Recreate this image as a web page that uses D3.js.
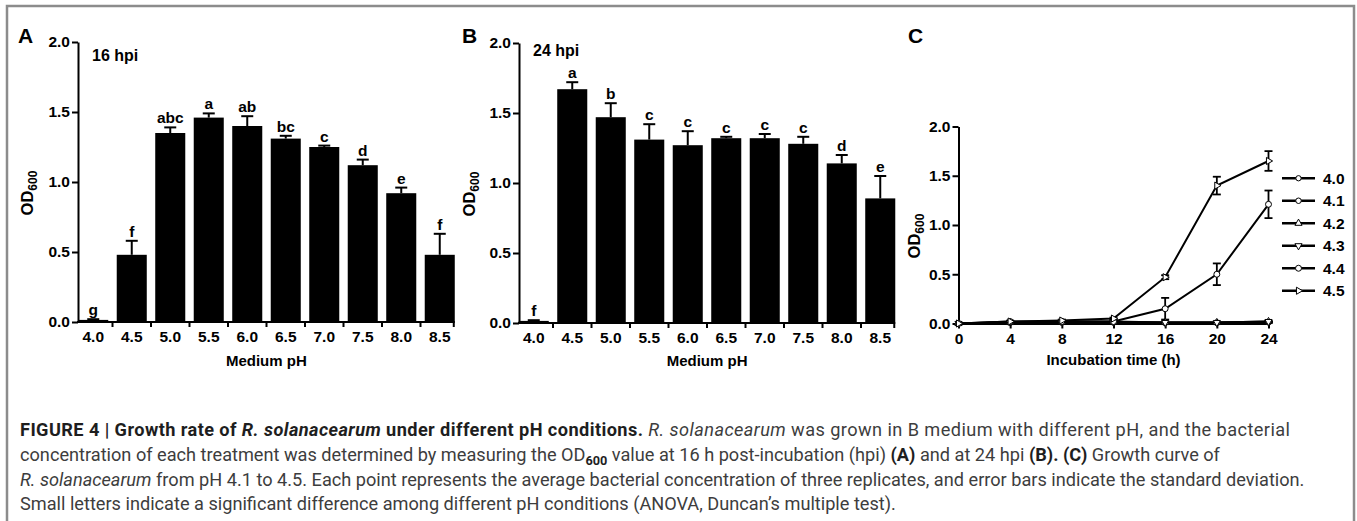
<!DOCTYPE html>
<html><head><meta charset="utf-8">
<script src="https://cdnjs.cloudflare.com/ajax/libs/d3/7.8.5/d3.min.js"></script>
<style>
html,body{margin:0;padding:0;background:#fff;}
svg{display:block;}
.bold{font-family:"Liberation Sans",Arial,sans-serif;font-weight:bold;}
</style></head>
<body>
<svg id="chart" width="1357" height="521"></svg>
<script>
// ---- data ----
const phCats = ["4.0","4.5","5.0","5.5","6.0","6.5","7.0","7.5","8.0","8.5"];
const odA = [0.015, 0.48, 1.35, 1.46, 1.40, 1.31, 1.25, 1.12, 0.92, 0.48];
const sdA = [0.005, 0.10, 0.04, 0.03, 0.07, 0.02, 0.01, 0.04, 0.04, 0.15];
const letA = ["g","f","abc","a","ab","bc","c","d","e","f"];
const odB = [0.015, 1.67, 1.47, 1.31, 1.27, 1.32, 1.32, 1.28, 1.14, 0.89];
const sdB = [0.005, 0.05, 0.10, 0.11, 0.10, 0.01, 0.03, 0.05, 0.06, 0.16];
const letB = ["f","a","b","c","c","c","c","c","d","e"];
const yTicks = [0, 0.5, 1.0, 1.5, 2.0];

const times = [0, 4, 8, 12, 16, 20, 24];
const seriesNames = ["4.0","4.1","4.2","4.3","4.4","4.5"];
const c40 = [0, 0.01, 0.01, 0.01, 0.005, 0.005, 0.01];
const c41 = [0, 0.01, 0.01, 0.01, 0.01, 0.01, 0.015];
const c42 = [0, 0.01, 0.015, 0.015, 0.01, 0.01, 0.02];
const c43 = [0, 0.015, 0.02, 0.02, 0.01, 0.01, 0.02];
const c44 = [0, 0.02, 0.02, 0.02, 0.15, 0.50, 1.21];
const c45 = [0, 0.02, 0.03, 0.05, 0.47, 1.40, 1.65];
const e44 = [0, 0.005, 0.005, 0.01, 0.11, 0.11, 0.14];
const e45 = [0, 0.005, 0.01, 0.01, 0.02, 0.09, 0.10];
const e0 = [0, 0.003, 0.003, 0.003, 0.003, 0.003, 0.005];
const timeTicks = [0, 4, 8, 12, 16, 20, 24];

const svg = d3.select("#chart");

// frame
svg.append("rect").attr("x",7).attr("y",6).attr("width",1347).attr("height",560)
  .attr("fill","none").attr("stroke","#8c8c8c").attr("stroke-width",2.5);

function barPanel(opts){
  const {vals, sds, lets, axisX, range, yRange, letter, letterX, hpi, hpiX, hpiY, odX, odY} = opts;
  const x = d3.scaleBand().domain(phCats).range(range).paddingInner(0.22).paddingOuter(0.11);
  const y = d3.scaleLinear().domain([0,2]).range(yRange);
  const g = svg.append("g");
  const data = phCats.map((c,i)=>({c, v:vals[i], s:sds[i], l:lets[i]}));
  g.selectAll("rect.bar").data(data).enter().append("rect")
    .attr("x", d=>x(d.c)).attr("width", x.bandwidth())
    .attr("y", d=>y(d.v)).attr("height", d=>y(0)-y(d.v))
    .attr("fill","#000");
  const cap = 12;
  g.selectAll("line.err").data(data).enter().append("line")
    .attr("x1", d=>x(d.c)+x.bandwidth()/2).attr("x2", d=>x(d.c)+x.bandwidth()/2)
    .attr("y1", d=>y(d.v)).attr("y2", d=>y(d.v+d.s))
    .attr("stroke","#000").attr("stroke-width",2);
  g.selectAll("line.cap").data(data).enter().append("line")
    .attr("x1", d=>x(d.c)+x.bandwidth()/2-cap/2).attr("x2", d=>x(d.c)+x.bandwidth()/2+cap/2)
    .attr("y1", d=>y(d.v+d.s)).attr("y2", d=>y(d.v+d.s))
    .attr("stroke","#000").attr("stroke-width",2);
  g.selectAll("text.let").data(data).enter().append("text").attr("class","bold")
    .attr("x", d=>x(d.c)+x.bandwidth()/2).attr("y", d=>y(d.v+d.s)-4)
    .attr("text-anchor","middle").attr("font-size",15.5).text(d=>d.l);
  const ya = d3.axisLeft(y).tickValues(yTicks).tickFormat(d3.format(".1f")).tickSize(6).tickSizeOuter(0).tickPadding(2);
  const yg = g.append("g").attr("transform",`translate(${axisX},0)`).call(ya);
  yg.selectAll("path,line").attr("stroke","#000").attr("stroke-width",2);
  yg.selectAll("text").attr("class","bold").attr("font-size",15.5).attr("fill","#000");
  const lastEnd = x(phCats[phCats.length-1]) + x.bandwidth();
  g.append("line").attr("x1",axisX-1).attr("x2",lastEnd).attr("y1",y(0)).attr("y2",y(0))
    .attr("stroke","#000").attr("stroke-width",2);
  const gap = x.step()-x.bandwidth();
  const bounds = phCats.slice(0,-1).map(c=>x(c)+x.bandwidth()+gap/2).concat([lastEnd-1]);
  g.selectAll("line.xt").data(bounds).enter().append("line")
    .attr("x1",d=>d).attr("x2",d=>d).attr("y1",y(0)).attr("y2",y(0)+5)
    .attr("stroke","#000").attr("stroke-width",2);
  g.selectAll("text.xl").data(phCats).enter().append("text").attr("class","bold")
    .attr("x", d=>x(d)+x.bandwidth()/2).attr("y", y(0)+20)
    .attr("text-anchor","middle").attr("font-size",15.5).text(d=>d);
  g.append("text").attr("class","bold").attr("x",(axisX+lastEnd)/2).attr("y",366)
    .attr("text-anchor","middle").attr("font-size",15).text("Medium pH");
  const yl = g.append("text").attr("class","bold").attr("font-size",16.5)
    .attr("transform",`translate(${odX},${odY}) rotate(-90)`).attr("text-anchor","middle");
  yl.append("tspan").text("OD");
  yl.append("tspan").attr("font-size",12).attr("dy",4).text("600");
  g.append("text").attr("class","bold").attr("x",letterX).attr("y",43).attr("font-size",21).text(letter);
  g.append("text").attr("class","bold").attr("x",hpiX).attr("y",hpiY).attr("font-size",16).text(hpi);
}

barPanel({vals:odA, sds:sdA, lets:letA, axisX:78, range:[74,459], yRange:[322,42],
  letter:"A", letterX:18, hpi:"16 hpi", hpiX:92, hpiY:61, odX:33, odY:193});
barPanel({vals:odB, sds:sdB, lets:letB, axisX:519, range:[514.5,899.5], yRange:[323,43],
  letter:"B", letterX:462, hpi:"24 hpi", hpiX:533, hpiY:56, odX:475, odY:194});

// ---- panel C ----
(function(){
  const x = d3.scaleLinear().domain([0,24]).range([958.5,1268.5]);
  const y = d3.scaleLinear().domain([0,2]).range([323.5,126.5]);
  const g = svg.append("g");
  const vals = [c40,c41,c42,c43,c44,c45];
  const errs = [e0,e0,e0,e0,e44,e45];
  const rot = [null,null,0,180,null,90];
  const sym = [d3.symbolCircle,d3.symbolCircle,d3.symbolTriangle,d3.symbolTriangle,d3.symbolCircle,d3.symbolTriangle];
  const sizes = [22,24,22,22,28,22];
  const line = d3.line().x((d,i)=>x(times[i])).y(d=>y(d));
  const ya = d3.axisLeft(y).tickValues(yTicks).tickFormat(d3.format(".1f")).tickSize(6).tickSizeOuter(0).tickPadding(2);
  const yg = g.append("g").attr("transform",`translate(${x(0)},0)`).call(ya);
  yg.selectAll("path,line").attr("stroke","#000").attr("stroke-width",2);
  yg.selectAll("text").attr("class","bold").attr("font-size",15.5).attr("fill","#000");
  const xa = d3.axisBottom(x).tickValues(timeTicks).tickFormat(d3.format("d")).tickSize(5).tickSizeOuter(0).tickPadding(4);
  const xg = g.append("g").attr("transform",`translate(0,${y(0)})`).call(xa);
  xg.selectAll("path,line").attr("stroke","#000").attr("stroke-width",2);
  xg.selectAll("text").attr("class","bold").attr("font-size",15.5).attr("fill","#000");
  vals.forEach((v,k)=>{
    g.append("path").attr("d",line(v)).attr("fill","none").attr("stroke","#000").attr("stroke-width",2);
  });
  vals.forEach((v,k)=>{
    v.forEach((d,i)=>{
      const s = errs[k][i]; if(s<=0.004) return;
      const cx = x(times[i]);
      g.append("line").attr("x1",cx).attr("x2",cx).attr("y1",y(d-s)).attr("y2",y(d+s)).attr("stroke","#000").attr("stroke-width",1.8);
      [d-s,d+s].forEach(e=>g.append("line").attr("x1",cx-4).attr("x2",cx+4).attr("y1",y(e)).attr("y2",y(e)).attr("stroke","#000").attr("stroke-width",1.8));
    });
  });
  vals.forEach((v,k)=>{
    g.selectAll(null).data(v).enter().append("path")
      .attr("d", d3.symbol().type(sym[k]).size(sizes[k]))
      .attr("transform",(d,i)=>`translate(${x(times[i])},${y(d)})`+(rot[k]!==null?` rotate(${rot[k]})`:""))
      .attr("fill","#fff").attr("stroke","#000").attr("stroke-width",1);
  });
  g.append("text").attr("class","bold").attr("x",(x(0)+x(24))/2).attr("y",365)
    .attr("text-anchor","middle").attr("font-size",15).text("Incubation time (h)");
  const yl = g.append("text").attr("class","bold").attr("font-size",16.5)
    .attr("transform",`translate(920,236) rotate(-90)`).attr("text-anchor","middle");
  yl.append("tspan").text("OD");
  yl.append("tspan").attr("font-size",12).attr("dy",4).text("600");
  g.append("text").attr("class","bold").attr("x",908).attr("y",43).attr("font-size",21).text("C");
  const ly = d3.scaleBand().domain(seriesNames).range([167,302]);
  seriesNames.forEach((n,k)=>{
    const cy = ly(n)+ly.bandwidth()/2;
    g.append("line").attr("x1",1282).attr("x2",1315).attr("y1",cy).attr("y2",cy).attr("stroke","#000").attr("stroke-width",2.5);
    g.append("path").attr("d",d3.symbol().type(sym[k]).size(sizes[k]))
      .attr("transform",`translate(1298.5,${cy})`+(rot[k]!==null?` rotate(${rot[k]})`:""))
      .attr("fill","#fff").attr("stroke","#000").attr("stroke-width",1);
    g.append("text").attr("class","bold").attr("x",1323).attr("y",cy+5.5).attr("font-size",15.5).text(n);
  });
})();

// ---- caption ----
const capLines = [
  [["FIGURE 4 | Growth rate of ","b"],["R. solanacearum","bi"],[" under different pH conditions.","b"],[" ",""],["R. solanacearum","i"],[" was grown in B medium with different pH, and the bacterial",""]],
  [["concentration of each treatment was determined by measuring the OD",""],["600","sub"],[" value at 16 h post-incubation (hpi) ",""],["(A)","b"],[" and at 24 hpi ",""],["(B). (C)","b"],[" Growth curve of",""]],
  [["R. solanacearum","i"],[" from pH 4.1 to 4.5. Each point represents the average bacterial concentration of three replicates, and error bars indicate the standard deviation.",""]],
  [["Small letters indicate a significant difference among different pH conditions (ANOVA, Duncan\u2019s multiple test).",""]]
];
const capY = [436, 461, 486, 510];
const capG = svg.append("g").attr("font-family","'Roboto','Liberation Sans',sans-serif").attr("fill","#3d3d3d");
const capTexts = capLines.map((ln,li)=>{
  const t = capG.append("text").attr("x",20).attr("y",capY[li]).attr("font-size",16);
  let prevSub = false;
  ln.forEach(([s,st])=>{
    const sp = t.append("tspan").text(s);
    if(st.includes("b")) sp.attr("font-weight","bold").attr("fill","#1e1e1e");
    if(st.includes("i")) sp.attr("font-style","italic");
    if(st==="sub"){ sp.attr("class","sub").attr("font-size",11).attr("dy",4); }
    if(prevSub) sp.attr("dy",-4);
    prevSub = (st==="sub");
  });
  return t;
});
// fit font so line 3 spans to ~x=1305
const w3 = capTexts[2].node().getComputedTextLength();
const fs = 16 * 1285 / w3;
capTexts.forEach(t=>{
  t.attr("font-size",fs);
  t.selectAll("tspan.sub").attr("font-size",fs*0.7);
});
// line 1 reaches ~x=1290 in the reference
const w1 = capTexts[0].node().getComputedTextLength();
if (w1 < 1270) capTexts[0].attr("textLength",1270).attr("lengthAdjust","spacing");
</script>
</body></html>
